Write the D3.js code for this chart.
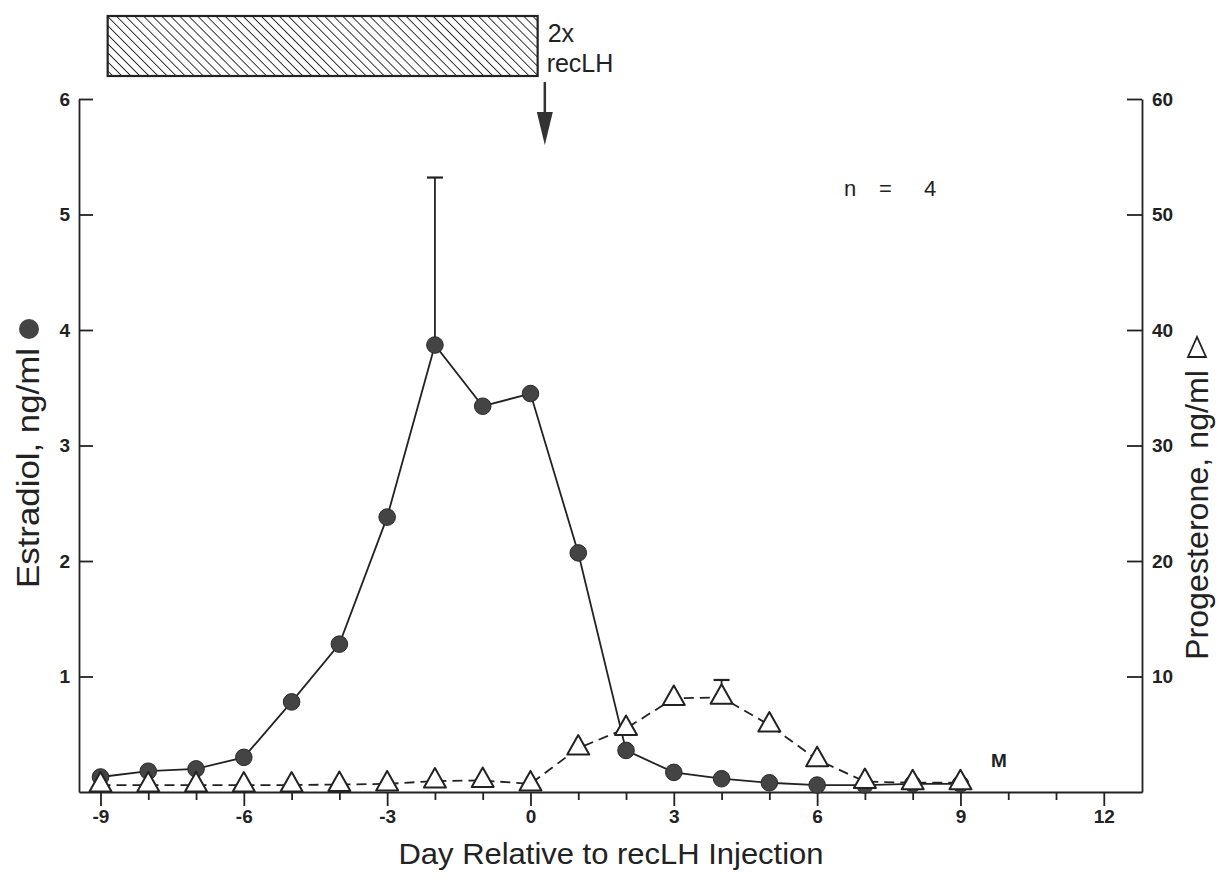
<!DOCTYPE html>
<html>
<head>
<meta charset="utf-8">
<script src="https://cdn.jsdelivr.net/npm/d3@7"></script>
<style>
  body { margin: 0; background: #fff; }
  svg { display: block; }
  .tick text { font-family: "Liberation Sans", Arial, sans-serif; font-size: 19px; font-weight: bold; fill: #222; }
  .title { font-family: "Liberation Sans", Arial, sans-serif; fill: #222; }
</style>
</head>
<body>
<div id="chart"></div>
<script>
// days relative to recLH injection
const days = [-9, -8, -7, -6, -5, -4, -3, -2, -1, 0, 1, 2, 3, 4, 5, 6, 7, 8, 9];
// estradiol, ng/ml (filled circles, left axis)
const estradiol = [0.13, 0.18, 0.20, 0.30, 0.78, 1.28, 2.38, 3.87, 3.34, 3.45, 2.07, 0.36, 0.17, 0.115, 0.08, 0.06, 0.06, 0.07, 0.07];
// progesterone, ng/ml (open triangles, right axis)
const progesterone = [0.6, 0.6, 0.6, 0.6, 0.6, 0.65, 0.7, 0.95, 1.0, 0.7, 3.8, 5.5, 8.1, 8.2, 5.8, 2.8, 0.9, 0.8, 0.8];
// upper error bars (SEM tops)
const estradiolErr = [{day: -2, value: 3.87, top: 5.32}];
const progesteroneErr = [{day: 4, value: 8.2, top: 9.7}];

const xTicks = [-9, -8, -7, -6, -5, -4, -3, -2, -1, 0, 1, 2, 3, 4, 5, 6, 7, 8, 9, 10, 11, 12];
const yLeftTicks = [1, 2, 3, 4, 5, 6];
const yRightTicks = [10, 20, 30, 40, 50, 60];

// treatment period (hatched box) and injection day
const treatment = [-8.85, 0.15];
const injectionDay = 0.3;

const width = 1227, height = 879;
const svg = d3.select("#chart").append("svg")
    .attr("width", width).attr("height", height);

const x = d3.scaleLinear().domain([-9.45, 12.8]).range([79, 1142]);
const yE = d3.scaleLinear().domain([0, 6]).range([792, 99]);
const yP = d3.scaleLinear().domain([0, 60]).range([792, 99]);

// hatch pattern
svg.append("defs").append("pattern")
    .attr("id", "hatch")
    .attr("patternUnits", "userSpaceOnUse")
    .attr("width", 6.4).attr("height", 6.4)
    .attr("patternTransform", "rotate(-45)")
  .append("line")
    .attr("x1", 0).attr("y1", 0).attr("x2", 0).attr("y2", 6.4)
    .attr("stroke", "#222").attr("stroke-width", 1.8);

svg.append("rect")
    .attr("x", x(treatment[0]))
    .attr("y", 16)
    .attr("width", x(treatment[1]) - x(treatment[0]))
    .attr("height", 60)
    .attr("fill", "url(#hatch)")
    .attr("stroke", "#222")
    .attr("stroke-width", 2.2);

svg.append("text").attr("class", "title")
    .attr("x", x(treatment[1]) + 10).attr("y", 42)
    .attr("font-size", 25).text("2x");
svg.append("text").attr("class", "title")
    .attr("x", x(treatment[1]) + 9).attr("y", 72)
    .attr("font-size", 25).text("recLH");

// arrow
const ax = x(injectionDay);
svg.append("line")
    .attr("x1", ax).attr("x2", ax).attr("y1", 82).attr("y2", 116)
    .attr("stroke", "#333").attr("stroke-width", 2.5);
svg.append("path")
    .attr("d", `M${ax - 8},112 L${ax + 8},112 L${ax},145 Z`)
    .attr("fill", "#333");

// axes
const gx = svg.append("g")
    .attr("transform", "translate(0,792)")
    .call(d3.axisBottom(x)
        .tickValues(xTicks)
        .tickSizeInner(14).tickSizeOuter(0).tickPadding(4)
        .tickFormat(d => d % 3 === 0 ? String(d) : ""));
gx.selectAll(".tick line").attr("y2", d => d % 3 === 0 ? 14 : 8);

svg.append("g")
    .attr("transform", "translate(79,0)")
    .call(d3.axisLeft(yE)
        .tickValues(yLeftTicks)
        .tickSizeInner(-14).tickSizeOuter(0).tickPadding(9)
        .tickFormat(d3.format("d")));

svg.append("g")
    .attr("transform", "translate(1142,0)")
    .call(d3.axisRight(yP)
        .tickValues(yRightTicks)
        .tickSizeInner(-15).tickSizeOuter(0).tickPadding(10)
        .tickFormat(d3.format("d")));

svg.selectAll(".domain, .tick line")
    .attr("stroke", "#222").attr("stroke-width", 1.8);

// estradiol line + circles
const lineE = d3.line().x((d, i) => x(days[i])).y(d => yE(d));
svg.append("path")
    .datum(estradiol)
    .attr("d", lineE)
    .attr("fill", "none").attr("stroke", "#222").attr("stroke-width", 1.8);

svg.selectAll(".errE").data(estradiolErr).join("g").each(function(d) {
    const g = d3.select(this);
    g.append("line").attr("x1", x(d.day)).attr("x2", x(d.day))
        .attr("y1", yE(d.value)).attr("y2", yE(d.top))
        .attr("stroke", "#222").attr("stroke-width", 1.8);
    g.append("line").attr("x1", x(d.day) - 8).attr("x2", x(d.day) + 8)
        .attr("y1", yE(d.top)).attr("y2", yE(d.top))
        .attr("stroke", "#222").attr("stroke-width", 2.2);
});

svg.selectAll(".dotE").data(estradiol).join("circle")
    .attr("cx", (d, i) => x(days[i]))
    .attr("cy", d => yE(d))
    .attr("r", 8.3)
    .attr("fill", "#444").attr("stroke", "#2a2a2a").attr("stroke-width", 1);

// progesterone line + triangles
const lineP = d3.line().x((d, i) => x(days[i])).y(d => yP(d));
svg.append("path")
    .datum(progesterone)
    .attr("d", lineP)
    .attr("fill", "none").attr("stroke", "#222").attr("stroke-width", 1.8)
    .attr("stroke-dasharray", "10,6");

svg.selectAll(".errP").data(progesteroneErr).join("g").each(function(d) {
    const g = d3.select(this);
    g.append("line").attr("x1", x(d.day)).attr("x2", x(d.day))
        .attr("y1", yP(d.value) - 13).attr("y2", yP(d.top))
        .attr("stroke", "#222").attr("stroke-width", 1.8);
    g.append("line").attr("x1", x(d.day) - 8).attr("x2", x(d.day) + 8)
        .attr("y1", yP(d.top)).attr("y2", yP(d.top))
        .attr("stroke", "#222").attr("stroke-width", 2.2);
});

svg.selectAll(".triP").data(progesterone).join("path")
    .attr("transform", (d, i) => `translate(${x(days[i])},${yP(d)})`)
    .attr("d", "M0,-13 L11,6.5 L-11,6.5 Z")
    .attr("fill", "#fff").attr("stroke", "#222").attr("stroke-width", 2)
    .attr("stroke-linejoin", "round");

// annotations
const nText = svg.append("text").attr("class", "title")
    .attr("y", 196).attr("font-size", 22);
nText.append("tspan").attr("x", 844).text("n");
nText.append("tspan").attr("x", 879).text("=");
nText.append("tspan").attr("x", 924).text("4");

svg.append("text").attr("class", "title")
    .attr("x", 991).attr("y", 767)
    .attr("font-size", 19).attr("font-weight", "bold").text("M");

// axis titles
svg.append("text").attr("class", "title")
    .attr("x", 611).attr("y", 864)
    .attr("text-anchor", "middle")
    .attr("font-size", 30)
    .attr("textLength", 425).attr("lengthAdjust", "spacingAndGlyphs")
    .text("Day Relative to recLH Injection");

const lt = svg.append("g").attr("transform", "translate(39,468) rotate(-90)");
lt.append("text").attr("class", "title")
    .attr("text-anchor", "middle").attr("font-size", 31)
    .attr("textLength", 240).attr("lengthAdjust", "spacingAndGlyphs")
    .text("Estradiol, ng/ml");
lt.append("circle").attr("cx", 139).attr("cy", -10).attr("r", 10).attr("fill", "#444");

const rt = svg.append("g").attr("transform", "translate(1208,515) rotate(-90)");
rt.append("text").attr("class", "title")
    .attr("text-anchor", "middle").attr("font-size", 31)
    .attr("textLength", 290).attr("lengthAdjust", "spacingAndGlyphs")
    .text("Progesterone, ng/ml");
rt.append("path")
    .attr("transform", "translate(168,-11)")
    .attr("d", "M-10,-9 L10,0 L-10,9 Z")
    .attr("fill", "none").attr("stroke", "#222").attr("stroke-width", 1.8);
</script>
</body>
</html>
